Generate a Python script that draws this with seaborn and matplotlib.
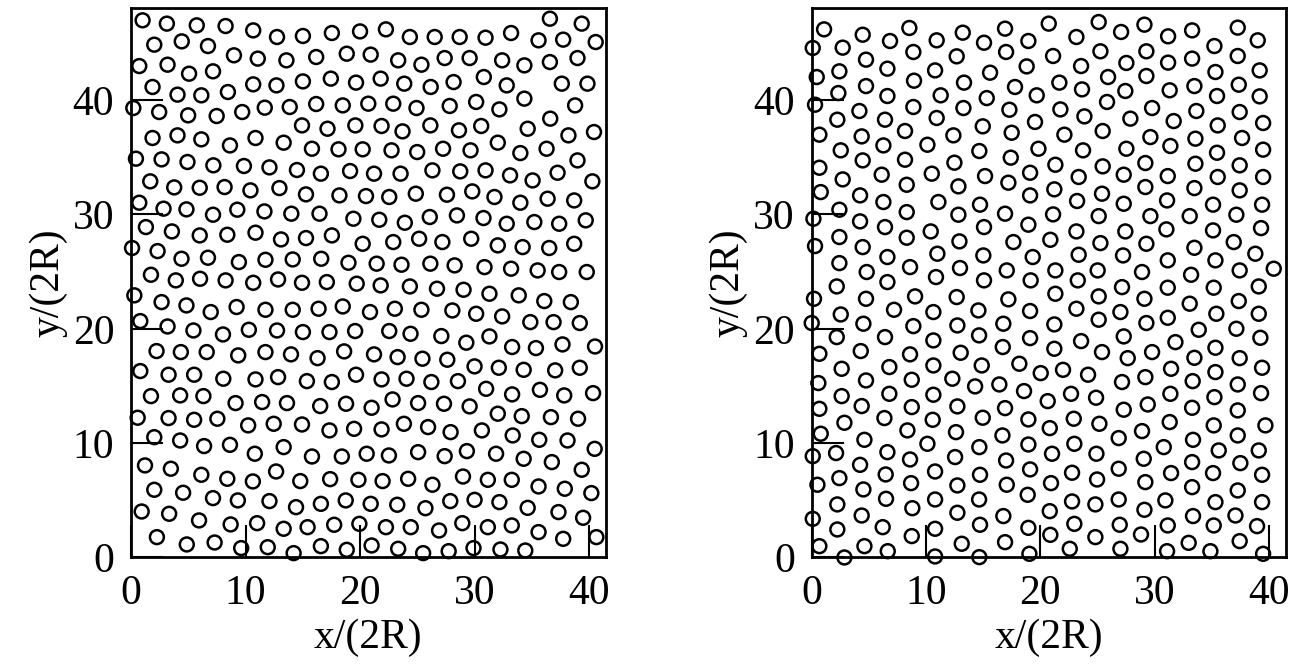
import matplotlib
matplotlib.use("Agg")
import matplotlib.pyplot as plt
import seaborn as sns
import pandas as pd

# Disk centre positions (units of the disk diameter 2R), left configuration
left_xy = [
    (1.01, 46.97), (3.13, 46.68), (5.74, 46.53), (8.26, 46.47), (10.67, 46.09), (12.75, 45.51),
    (15.01, 45.60), (17.54, 45.86), (20.00, 46.00),
    (22.26, 46.18), (24.35, 45.51), (26.52, 45.51), (28.70, 45.51), (30.96, 45.45), (33.19, 45.86),
    (35.59, 45.22), (37.74, 45.28), (40.58, 45.07), (36.58, 47.11), (39.36, 46.68),
    (2.03, 44.84), (4.43, 45.13), (6.72, 44.72), (8.99, 43.91), (11.07, 43.62), (13.57, 43.47),
    (16.17, 43.76), (18.84, 44.05),
    (20.93, 43.97), (23.33, 43.47), (25.36, 43.09), (27.39, 43.67), (29.57, 43.67), (32.41, 43.47),
    (34.35, 43.03), (36.58, 43.32), (38.99, 43.67),
    (0.72, 42.97), (3.19, 43.09), (5.07, 42.30), (7.16, 42.51), (10.67, 41.37), (12.70, 41.28),
    (15.01, 41.63), (17.45, 41.87), (19.65, 41.52),
    (21.80, 41.87), (23.86, 41.43), (26.17, 41.14), (28.17, 41.57), (30.81, 42.01), (32.81, 41.28),
    (37.62, 41.43), (39.86, 41.43),
    (1.88, 41.14), (4.06, 40.47), (6.14, 40.41), (8.46, 40.70),
    (0.20, 39.30), (2.46, 38.95), (4.99, 38.66), (7.48, 38.60), (9.71, 38.95), (11.68, 39.33),
    (13.86, 39.39), (16.17, 39.65), (18.49, 39.53),
    (20.72, 39.68), (22.90, 39.68), (24.93, 39.30), (27.83, 39.48), (30.14, 39.83), (32.17, 39.18),
    (34.35, 40.12), (38.78, 39.53),
    (14.93, 37.78), (17.16, 37.49), (19.59, 37.78),
    (21.88, 37.73), (23.71, 37.26), (26.14, 37.78), (28.64, 37.35), (30.58, 37.73), (34.64, 37.49),
    (36.61, 38.37), (38.20, 36.91), (40.43, 37.20),
    (1.88, 36.68), (4.06, 36.91), (6.14, 36.56), (8.64, 36.03), (10.87, 36.68), (13.33, 36.27),
    (15.80, 35.74), (18.12, 35.69), (20.23, 35.69),
    (22.75, 35.60), (24.99, 35.45), (27.25, 35.74), (29.65, 35.60), (32.03, 36.27), (34.00, 35.36),
    (36.29, 35.74), (38.99, 34.72),
    (0.43, 34.87), (2.67, 34.81), (4.93, 34.58), (7.19, 34.29), (9.86, 34.23), (12.09, 34.11),
    (14.49, 33.88), (16.58, 33.56), (19.13, 33.79),
    (21.22, 33.56), (23.54, 33.56), (26.32, 33.85), (28.75, 33.76), (30.96, 33.85), (33.10, 33.41),
    (35.07, 32.97), (37.25, 33.64), (40.29, 32.89),
    (1.68, 32.89), (3.77, 32.36), (6.00, 32.33), (8.17, 32.39), (10.43, 32.10), (12.96, 32.30),
    (15.28, 31.75), (18.20, 31.66), (20.52, 31.60),
    (22.55, 31.52), (24.87, 31.81), (27.59, 31.72), (29.80, 32.01), (31.74, 31.52), (34.00, 31.02),
    (36.38, 31.37), (38.70, 31.22),
    (0.72, 31.02), (2.84, 30.50), (4.84, 30.44), (7.16, 29.97), (9.28, 30.41), (11.65, 30.26),
    (14.00, 30.06), (16.46, 30.06), (19.42, 29.62),
    (21.68, 29.53), (23.91, 29.27), (26.09, 29.77), (28.46, 29.91), (30.78, 29.68), (32.81, 29.18),
    (35.22, 29.33), (37.39, 29.18), (39.71, 29.48),
    (1.30, 28.89), (3.57, 28.51), (6.00, 28.16), (8.41, 28.22), (10.87, 28.40), (13.10, 27.81),
    (15.28, 27.93), (17.54, 28.16), (20.23, 27.43),
    (22.90, 27.58), (25.16, 27.87), (27.19, 27.58), (29.71, 27.87), (32.03, 27.29), (34.20, 27.14),
    (36.52, 27.06), (38.70, 27.43),
    (0.09, 27.06), (2.32, 26.79), (4.41, 26.12), (6.72, 26.21), (9.42, 25.83), (11.74, 26.03),
    (14.12, 26.06), (16.61, 26.12), (18.99, 25.77),
    (21.45, 25.69), (23.62, 25.60), (26.14, 25.69), (28.26, 25.54), (30.87, 25.39), (33.19, 25.25),
    (35.51, 25.10), (37.39, 24.96), (39.80, 24.96),
    (1.74, 24.72), (3.91, 24.23), (6.03, 24.37), (8.26, 24.23), (10.67, 24.02), (12.84, 24.31),
    (14.93, 24.02), (17.10, 24.08), (19.71, 23.94),
    (21.80, 23.79), (24.35, 23.70), (26.72, 23.50), (29.04, 23.41), (31.30, 23.06), (33.86, 22.92),
    (36.09, 22.42), (38.41, 22.33),
    (0.29, 22.92), (2.67, 22.33), (4.84, 22.04), (6.96, 21.46), (9.22, 21.90), (11.74, 21.66),
    (14.12, 21.66), (16.38, 21.75), (18.49, 21.95),
    (20.87, 21.46), (23.04, 21.75), (25.36, 21.66), (28.06, 21.60), (30.14, 21.31), (32.41, 21.08),
    (34.87, 20.58), (36.90, 20.58), (39.19, 20.50),
    (0.81, 20.67), (3.19, 20.20), (5.45, 19.85), (8.03, 19.50), (10.29, 19.91), (12.75, 19.85),
    (15.01, 19.71), (17.33, 19.71), (19.57, 19.80),
    (22.55, 19.80), (24.41, 19.56), (27.10, 19.36), (29.28, 18.78), (31.30, 19.33), (33.28, 18.40),
    (35.36, 18.31), (37.68, 18.63), (40.52, 18.45),
    (2.23, 18.05), (4.35, 17.96), (6.61, 17.96), (9.36, 17.67), (11.74, 17.96), (13.97, 17.76),
    (16.29, 17.43), (18.61, 18.02),
    (21.22, 17.76), (23.28, 17.52), (25.45, 17.38), (27.62, 17.29), (30.00, 16.71), (32.12, 16.59),
    (34.29, 16.41), (37.04, 16.36), (39.19, 16.59),
    (0.81, 16.30), (3.28, 15.98), (5.51, 15.98), (8.06, 15.63), (10.87, 15.57), (12.84, 15.77),
    (15.36, 15.42), (17.54, 15.34), (19.65, 15.98),
    (21.88, 15.57), (24.06, 15.63), (26.23, 15.34), (28.55, 15.42), (31.01, 14.75), (33.28, 14.26),
    (35.71, 14.66), (37.83, 14.17), (40.35, 14.37),
    (1.74, 14.11), (4.29, 14.17), (6.32, 14.11), (9.13, 13.50), (11.45, 13.59), (13.62, 13.50),
    (16.52, 13.24), (18.78, 13.44),
    (21.01, 13.09), (22.84, 13.82), (25.07, 13.50), (27.33, 13.44), (29.57, 13.21), (32.03, 12.57),
    (34.12, 12.36), (36.67, 12.27), (39.04, 12.13),
    (0.58, 12.22), (3.28, 12.19), (5.51, 12.04), (7.54, 12.13), (10.23, 11.55), (12.46, 11.69),
    (14.93, 11.63), (17.33, 11.11), (19.48, 11.25),
    (21.88, 11.20), (23.83, 11.69), (25.94, 11.40), (27.91, 10.96), (30.64, 11.11), (33.33, 10.67),
    (35.65, 10.29), (38.12, 10.23), (40.49, 9.50),
    (2.03, 10.52), (4.29, 10.23), (6.38, 9.74), (8.64, 9.85), (10.81, 9.07), (13.33, 9.65),
    (15.80, 8.83), (18.41, 8.83),
    (20.58, 9.07), (22.52, 8.92), (25.07, 9.21), (27.39, 8.86), (29.33, 9.30), (31.88, 9.07),
    (34.29, 8.63), (36.75, 8.34), (39.36, 7.67),
    (1.22, 8.05), (3.48, 7.76), (6.14, 7.23), (8.41, 6.88), (10.64, 6.65), (12.67, 7.52),
    (14.78, 6.68), (17.39, 6.85), (19.86, 6.79),
    (21.97, 6.68), (24.20, 6.88), (26.32, 6.36), (28.99, 7.08), (31.16, 6.79), (33.25, 6.79),
    (35.59, 6.21), (37.88, 6.01), (40.20, 5.63),
    (2.03, 5.92), (4.55, 5.66), (7.16, 5.19), (9.33, 4.99), (12.09, 4.93), (14.41, 4.40),
    (16.58, 4.69), (18.75, 4.99),
    (20.93, 4.69), (23.25, 4.61), (25.71, 4.31), (27.88, 4.93), (30.00, 5.04), (32.17, 4.84),
    (34.64, 4.34), (37.33, 3.97), (39.48, 3.47),
    (0.93, 4.02), (3.33, 3.82), (5.94, 3.24), (8.70, 2.89), (11.01, 3.00), (13.33, 2.51),
    (15.42, 2.65), (17.74, 2.86), (19.94, 2.94),
    (22.26, 2.65), (24.43, 2.65), (26.90, 2.36), (28.93, 3.00), (31.16, 2.65), (33.25, 2.80),
    (35.59, 2.22), (37.74, 1.63), (40.64, 1.78),
    (2.26, 1.78), (4.87, 1.14), (7.30, 1.31), (9.62, 0.82), (11.94, 0.90), (14.20, 0.38),
    (16.58, 0.99), (18.84, 0.67),
    (21.01, 1.05), (23.33, 0.76), (25.51, 0.38), (27.74, 0.55), (29.91, 0.82), (32.26, 0.70),
    (34.43, 0.61),
]

# Disk centre positions, right configuration
right_xy = [
    (1.08, 46.18), (4.46, 45.71), (8.54, 46.30), (6.85, 45.16), (10.93, 45.22), (13.21, 45.89),
    (15.07, 45.01), (16.91, 46.24), (18.95, 45.16),
    (0.09, 44.55), (2.71, 44.58), (8.89, 44.20), (12.68, 43.82), (17.00, 44.20),
    (4.75, 43.53), (6.62, 42.74), (2.42, 42.51), (10.79, 42.59), (15.60, 42.39), (18.80, 42.94),
    (0.44, 42.01), (8.95, 41.69), (13.32, 41.52), (17.78, 41.14),
    (2.33, 40.61), (4.75, 41.22), (6.62, 40.35), (11.28, 40.41), (15.31, 40.17), (19.68, 40.41),
    (0.29, 39.59), (4.17, 39.04), (8.89, 39.39), (13.27, 39.30), (17.29, 39.15),
    (2.24, 38.28), (6.41, 38.28), (10.93, 38.43), (14.96, 37.70), (19.53, 38.08),
    (0.67, 36.97), (4.37, 36.82), (8.16, 37.29), (12.39, 36.91), (17.49, 37.14),
    (2.54, 35.60), (6.27, 36.03), (10.12, 36.09), (14.66, 35.54), (19.83, 35.74),
    (0.67, 34.08), (4.46, 34.72), (8.16, 34.78), (12.48, 34.52), (17.41, 34.96),
    (2.71, 33.06), (6.12, 33.47), (10.50, 33.56), (15.16, 33.35), (19.10, 33.64),
    (0.79, 31.95), (8.31, 32.59), (12.83, 32.45), (17.20, 32.77),
    (4.23, 31.66), (6.27, 31.08), (11.08, 31.08), (14.72, 30.85), (19.10, 31.66),
    (2.42, 30.41), (0.15, 29.62), (8.31, 30.20), (12.83, 29.97), (16.91, 30.06),
    (4.23, 29.39), (6.41, 28.89), (10.41, 28.51), (15.07, 28.89), (18.95, 29.10),
    (2.42, 28.02), (8.31, 27.96), (12.92, 27.64), (17.64, 27.58),
    (0.29, 27.23), (4.46, 27.14), (6.62, 26.27), (10.99, 26.56), (15.01, 26.41), (19.33, 26.27),
    (2.42, 25.74), (4.81, 24.96), (8.60, 25.39), (12.97, 25.31), (17.06, 25.10),
    (2.19, 23.70), (6.62, 24.08), (10.87, 24.52), (15.07, 24.23), (19.15, 24.23),
    (20.73, 46.68), (23.15, 45.51), (25.10, 46.82), (27.06, 45.95), (29.10, 46.59), (31.17, 45.57),
    (33.27, 46.09), (35.22, 44.72), (37.26, 46.33), (39.01, 45.22),
    (21.11, 43.85), (23.56, 42.97), (25.25, 44.26), (27.52, 43.24), (29.27, 44.26), (31.17, 43.27),
    (33.27, 43.62), (35.31, 42.45), (37.26, 43.85), (39.18, 42.59),
    (21.66, 41.52), (23.64, 40.93), (25.92, 42.01), (27.43, 40.79), (29.27, 42.10), (31.31, 40.85),
    (33.47, 41.22), (35.45, 40.35), (37.35, 41.34), (39.18, 40.32),
    (21.75, 39.18), (23.85, 38.57), (25.83, 39.83), (27.87, 38.37), (29.77, 39.30), (31.66, 38.16),
    (33.64, 39.04), (35.51, 37.78), (37.43, 38.95), (39.48, 37.99),
    (22.10, 36.97), (23.73, 35.60), (25.45, 37.29), (27.52, 35.74), (29.62, 36.76), (31.37, 35.98),
    (33.56, 36.62), (35.45, 35.39), (37.64, 36.68), (39.48, 35.66),
    (21.31, 34.34), (23.35, 33.27), (25.45, 34.20), (27.29, 33.47), (29.18, 34.49), (31.14, 33.35),
    (33.56, 34.43), (35.51, 33.27), (37.43, 34.29), (39.48, 33.27),
    (21.22, 32.19), (23.21, 31.17), (25.39, 31.81), (27.29, 30.93), (29.18, 32.39), (31.08, 31.22),
    (33.47, 32.30), (35.10, 30.85), (37.43, 32.10), (39.39, 30.85),
    (21.11, 30.00), (23.15, 28.51), (25.10, 29.85), (27.43, 28.51), (29.62, 29.85), (31.02, 28.69),
    (33.06, 29.85), (35.10, 28.60), (37.14, 29.97), (39.30, 28.80),
    (20.87, 27.78), (25.25, 27.49), (23.35, 26.47), (27.23, 26.41), (29.27, 27.43), (31.14, 25.98),
    (33.47, 27.08), (35.31, 25.98), (36.91, 27.58), (38.80, 26.56),
    (21.31, 25.10), (23.27, 24.23), (25.01, 25.10), (28.89, 24.96), (33.18, 24.72), (37.43, 25.10),
    (40.41, 25.25),
    (27.14, 23.64), (31.14, 23.59), (35.16, 23.59), (39.10, 23.70),
    (0.20, 22.62), (4.75, 22.62), (9.04, 22.83), (12.68, 22.77), (17.20, 22.57),
    (2.54, 21.25), (7.20, 21.66), (10.64, 21.46), (14.58, 21.60), (19.10, 21.55),
    (0.00, 20.50), (4.52, 20.44), (8.89, 20.23), (12.74, 20.29), (16.76, 20.44),
    (2.19, 19.27), (6.41, 19.27), (10.64, 18.98), (14.64, 19.42), (19.10, 19.18),
    (0.67, 17.81), (4.29, 18.05), (8.60, 17.76), (13.03, 17.90), (16.71, 18.40),
    (2.62, 16.50), (6.79, 16.65), (10.64, 16.79), (14.87, 16.79), (18.16, 16.94), (20.03, 16.12),
    (0.58, 15.25), (4.75, 15.48), (8.75, 15.54), (12.30, 15.63), (14.29, 14.96), (16.41, 15.13),
    (18.57, 14.55),
    (2.62, 14.11), (6.79, 14.31), (10.64, 14.23),
    (0.67, 13.00), (4.37, 13.24), (8.75, 13.15), (12.74, 13.21), (16.91, 13.06),
    (2.86, 11.78), (6.36, 12.19), (10.58, 12.04), (14.96, 12.22), (18.95, 12.07),
    (0.79, 10.82), (4.61, 10.29), (8.37, 11.11), (12.62, 10.96), (16.68, 10.67), (18.95, 9.88),
    (0.09, 8.86), (2.13, 9.13), (6.62, 9.21), (10.12, 9.94), (14.66, 9.65),
    (4.23, 8.10), (8.60, 8.57), (12.54, 8.78), (17.00, 8.48),
    (0.50, 6.36), (2.42, 6.94), (6.47, 7.26), (10.79, 7.52), (14.72, 7.23), (19.10, 7.70),
    (4.52, 5.95), (8.69, 6.50), (12.74, 6.30), (17.06, 6.36),
    (2.24, 4.64), (6.50, 5.13), (10.79, 5.07), (14.64, 5.07), (18.89, 5.48),
    (0.09, 3.38), (4.37, 3.67), (8.80, 4.31), (12.74, 3.91), (16.76, 3.62),
    (2.24, 2.45), (6.21, 2.65), (10.79, 2.51), (14.72, 2.86), (18.95, 2.59),
    (0.67, 0.99), (4.61, 0.99), (8.75, 1.87), (13.12, 1.20), (16.91, 1.34),
    (2.86, 0.00), (6.65, 0.55), (10.79, 0.09), (14.66, 0.03), (19.04, 0.32),
    (21.31, 23.06), (25.10, 22.83), (29.10, 22.62), (37.35, 22.42), (33.06, 22.19), (23.15, 21.75),
    (27.00, 21.46), (31.14, 20.96), (35.39, 21.31), (39.10, 21.31),
    (21.22, 20.38), (25.10, 20.79), (29.27, 20.50), (33.85, 19.91), (37.14, 20.00), (39.24, 19.21),
    (21.22, 18.25), (23.56, 18.92), (27.29, 19.33), (31.81, 18.83), (25.39, 17.96), (27.64, 17.43),
    (29.77, 17.96), (33.47, 17.46), (35.31, 18.34), (37.43, 17.43),
    (21.98, 16.41), (24.17, 15.98), (27.14, 15.34), (29.18, 15.77), (31.43, 16.50), (33.32, 15.42),
    (35.31, 16.21), (37.26, 15.13), (39.39, 16.59), (39.30, 14.37),
    (20.64, 13.67), (22.68, 14.31), (24.87, 13.97), (27.29, 12.92), (29.39, 13.38), (31.37, 14.31),
    (33.27, 13.09), (35.22, 14.02), (37.26, 12.86),
    (20.82, 11.31), (22.92, 12.13), (25.16, 11.69), (26.85, 10.44), (28.89, 11.05), (31.31, 11.84),
    (33.35, 10.29), (35.16, 11.55), (37.26, 10.67), (39.68, 11.55),
    (21.02, 9.07), (22.97, 9.94), (24.90, 9.07), (30.79, 9.65), (29.04, 8.63), (35.60, 9.36),
    (39.10, 9.36),
    (20.93, 6.50), (22.77, 7.41), (24.96, 6.82), (26.85, 7.76), (29.18, 6.59), (31.43, 7.38),
    (33.27, 8.34), (35.10, 7.38), (37.49, 8.25), (39.39, 7.23),
    (20.82, 4.05), (22.77, 4.90), (24.81, 4.64), (26.85, 5.07), (29.10, 4.17), (30.93, 4.99),
    (33.27, 6.15), (35.31, 4.84), (37.26, 5.86), (39.39, 4.84),
    (20.87, 1.98), (22.97, 2.94), (24.81, 1.78), (26.94, 2.86), (28.80, 2.01), (31.14, 2.80),
    (33.35, 3.62), (35.16, 2.80), (37.06, 3.67), (38.95, 2.74),
    (22.57, 0.76), (27.00, 0.76), (31.08, 0.55), (32.97, 1.28), (34.87, 0.55), (37.43, 1.43),
    (39.48, 0.32),
]

tick_values = [0, 10, 20, 30, 40]
x_label = "x/(2R)"
y_label = "y/(2R)"

sns.set_style("white")
plt.rcParams["font.family"] = ["Liberation Serif", "DejaVu Serif"]
plt.rcParams["axes.labelcolor"] = "black"
plt.rcParams["text.color"] = "black"
plt.rcParams["xtick.color"] = "black"
plt.rcParams["ytick.color"] = "black"

fig = plt.figure(figsize=(13.05, 6.69), dpi=100)
ax_left = fig.add_axes([0.1004, 0.1667, 0.3638, 0.8214])
ax_right = fig.add_axes([0.6220, 0.1667, 0.3636, 0.8214])

for ax, pts, xmax in [(ax_left, left_xy, 41.46), (ax_right, right_xy, 41.5)]:
    df = pd.DataFrame(pts, columns=["x", "y"])
    sns.scatterplot(data=df, x="x", y="y", ax=ax, marker="o", s=100,
                    facecolor="none", edgecolor="black", linewidth=1.8,
                    clip_on=False, zorder=3, legend=False)
    coll = ax.collections[-1]
    coll.set_facecolor("none")
    coll.set_edgecolor("black")
    ax.set_xlim(0, xmax)
    ax.set_ylim(0, 48.05)
    ax.set_xticks(tick_values)
    ax.set_yticks(tick_values)
    ax.tick_params(direction="in", length=23, width=1.5, labelsize=30, pad=12,
                   top=False, right=False, bottom=True, left=True,
                   colors="black", labelcolor="black")
    for sp in ax.spines.values():
        sp.set_linewidth(2.0)
        sp.set_color("black")
        sp.set_zorder(4)
    ax.set_xlabel(x_label, fontsize=30, labelpad=4, color="black")
    ax.set_ylabel(y_label, fontsize=30, labelpad=4, color="black")

fig.savefig("out.png", dpi=100)
